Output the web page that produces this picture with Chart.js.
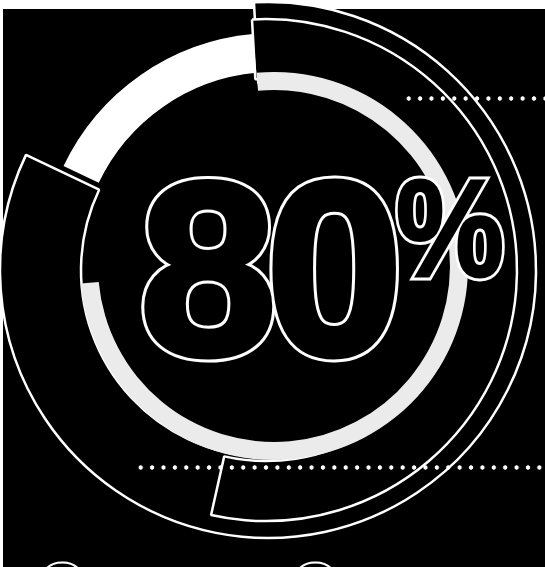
<!DOCTYPE html>
<html>
<head>
<meta charset="utf-8">
<script src="https://cdn.jsdelivr.net/npm/chart.js@4.4.1/dist/chart.umd.min.js"></script>
<style>
  html, body { margin: 0; padding: 0; background: #fff; }
  #stage { position: relative; width: 545px; height: 567px; overflow: hidden; background: #fff; }
  #board { position: absolute; left: 3px; top: 9px; right: 0; bottom: 0; background: #000; }
  canvas.layer { position: absolute; }
  .big { position: absolute; z-index: 1; margin: 0; color: #000; font-family: "Liberation Sans", Arial, sans-serif;
         font-weight: 700; -webkit-text-stroke: 7px #000; white-space: nowrap; }
  .big::before { content: attr(data-text); position: absolute; left: 0; top: 0; z-index: -1;
                 -webkit-text-stroke: 13px #fff; }
  .big.thin { -webkit-text-stroke: 3px #000; }
  .big.thin::before { -webkit-text-stroke: 9px #fff; }
  .small { position: absolute; color: #000; font-family: "Liberation Sans", Arial, sans-serif;
           font-weight: 700; -webkit-text-stroke: 2px #fff; }
  .dots { position: absolute; height: 5px; right: 0;
          background: radial-gradient(circle, #fff 1.9px, transparent 2.5px) 0 0 / 11.4px 5px repeat-x; }
</style>
</head>
<body>
<div id="stage">
  <div id="board"></div>
  <canvas class="layer" id="outerBand" width="560" height="560" style="left:-12px;top:-10px"></canvas>
  <canvas class="layer" id="middleBand" width="560" height="560" style="left:-14px;top:-10px"></canvas>
  <canvas class="layer" id="whiteRing" width="560" height="560" style="left:-6px;top:-14px"></canvas>
  <canvas class="layer" id="greyRing" width="560" height="560" style="left:-6px;top:-14px"></canvas>
  <div class="big" id="value" style="left:140px;top:147px;font-size:245px;line-height:245px;letter-spacing:-10px"></div>
  <div class="big thin" id="unit" style="left:396px;top:159px;font-size:138px;line-height:138px;transform:scaleX(0.88);transform-origin:0 0"></div>
  <div class="small" style="left:39px;top:554px;font-size:60px;line-height:60px">O</div>
  <div class="small" style="left:292px;top:554px;font-size:60px;line-height:60px">O</div>
  <div class="dots" style="left:403px;top:96px"></div>
  <div class="dots" style="left:135px;top:465px"></div>
</div>
<script>
// anteile in prozent eines vollen kreises, im uhrzeigersinn ab oben
const ringParts = ["grau", "luecke", "weiss"];
const ringShare = [75.0, 8.5, 16.5];
const outerShare = [82.9, 17.1];
const middleShare = [54.4, 45.6];
const headline = "80";
const unit = "%";

let v = document.getElementById("value");
v.textContent = headline;
v.dataset.text = headline;
let u = document.getElementById("unit");
u.textContent = unit;
u.dataset.text = unit;

function ring(id, values, colors, borders, radius, inner, rotation) {
    new Chart(document.getElementById(id), {
        type: "doughnut",
        data: {
            labels: values.map((x, i) => ringParts[i] || ("teil " + i)),
            datasets: [{
                data: values,
                backgroundColor: colors,
                borderColor: "#fff",
                borderWidth: borders
            }]
        },
        options: {
            responsive: false,
            animation: false,
            radius: radius,
            cutout: (inner / radius * 100) + "%",
            rotation: rotation,
            plugins: { legend: { display: false }, tooltip: { enabled: false } },
            events: []
        }
    });
}

ring("outerBand", outerShare, ["#000", "rgba(0,0,0,0)"], [2.5, 0], 268, 187, -3);
ring("middleBand", middleShare, ["#000", "rgba(0,0,0,0)"], [2.5, 0], 251, 191, -3.2);
ring("whiteRing", ringShare, ["rgba(0,0,0,0)", "rgba(0,0,0,0)", "#fff"], [0, 0, 0], 233, 194, -5.2);
ring("greyRing", ringShare, ["#ebebeb", "rgba(0,0,0,0)", "rgba(0,0,0,0)"], [0, 0, 0], 194, 176, -5.2);
</script>
</body>
</html>
